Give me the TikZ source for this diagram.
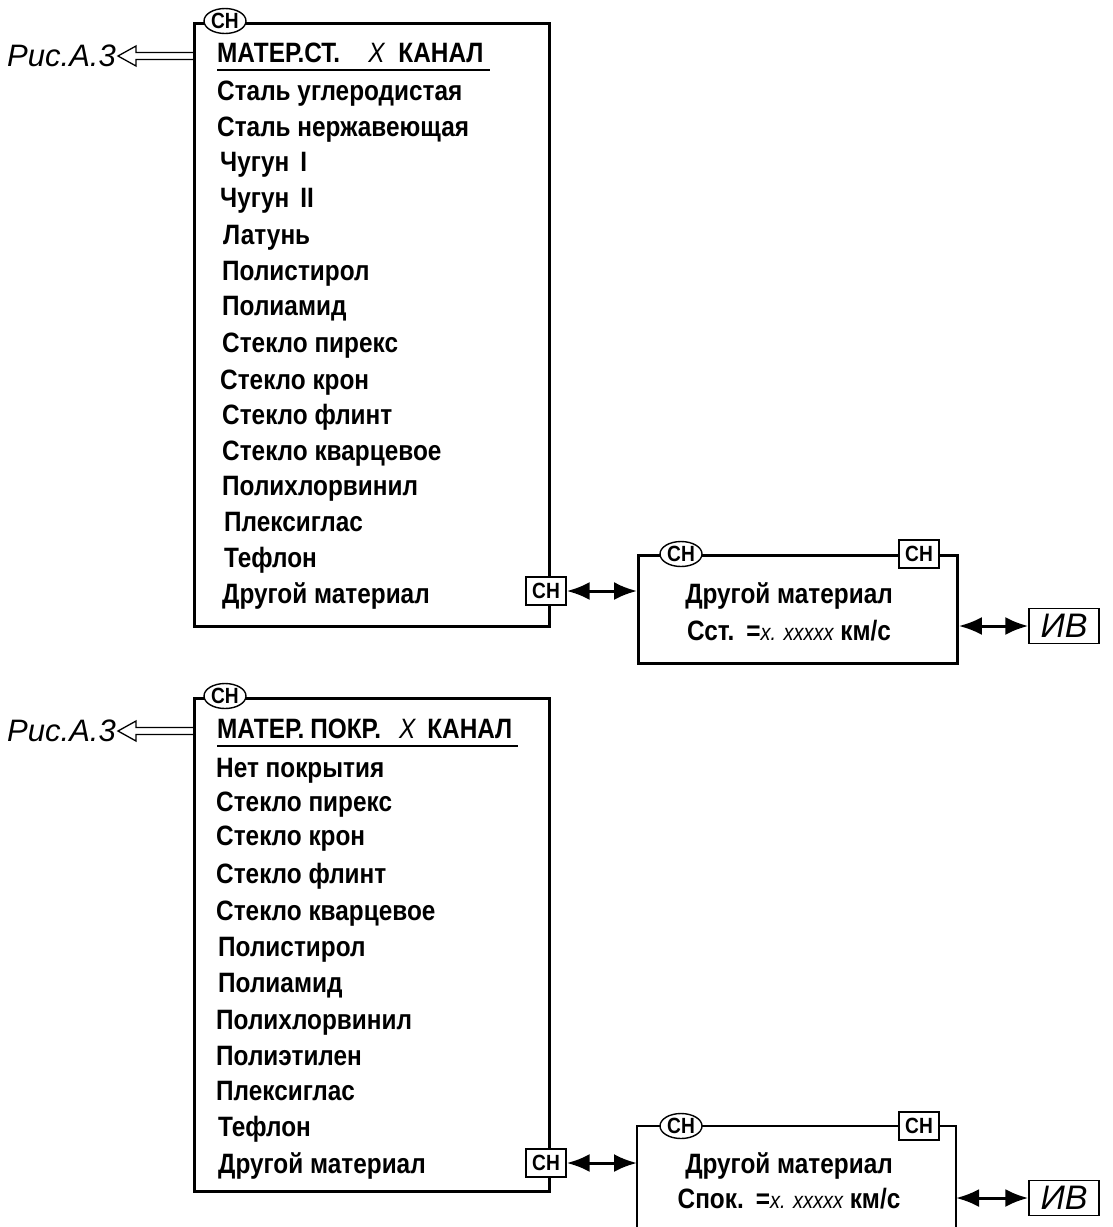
\documentclass[tikz,border=0pt]{standalone}
\usepackage{fontspec}
\setmainfont{Liberation Sans}
\newfontfamily\narrowfam{Liberation Sans}[FakeStretch=0.87]
\usetikzlibrary{arrows.meta,shapes.geometric,calc}
\newcommand\itemfont{\narrowfam\fontsize{28}{32}\selectfont\bfseries\upshape}
\newcommand\snfont{\narrowfam\fontsize{22}{24}\selectfont\bfseries\upshape}
\newcommand\valfont{\narrowfam\fontsize{23}{26}\selectfont\mdseries\itshape}
\newcommand\rifont{\fontsize{31}{34}\selectfont\mdseries\itshape}
\begin{document}
\begin{tikzpicture}[x=1pt,y=-1pt,
  frame/.style={draw,line width=2.8pt},
  item/.style={anchor=base west,inner sep=0pt,font=\itemfont},
  ctext/.style={anchor=base,inner sep=0pt,font=\itemfont},
  ovl/.style={ellipse,draw,line width=1.4pt,fill=white,inner sep=0pt,minimum width=42pt,minimum height=25pt,font=\snfont},
  sq/.style={rectangle,draw,line width=1.4pt,fill=white,inner sep=0pt,minimum width=40pt,minimum height=28pt,font=\snfont},
  ivbox/.style={rectangle,draw,line width=1.4pt,fill=white,inner sep=0pt,minimum width=70pt,minimum height=35pt,font=\fontsize{34}{36}\selectfont\mdseries\itshape},
  dbl/.style={line width=3pt,{Latex[length=23pt,width=18pt]}-{Latex[length=23pt,width=18pt]}},
  ulin/.style={line width=1.9pt},
  riarrow/.style={line width=1.3pt}
]
\useasboundingbox (0,0) rectangle (1112,1227);

% ================= upper block =================
\node[frame,anchor=north west,minimum width=355pt,minimum height=603pt,inner sep=0pt] (b1) at (193,22) {};
\node[ovl] (o1) at (225,21) {СН};
\node[item] (h1) at (217,62) {МАТЕР.СТ.\hspace{28pt}{\mdseries\itshape X}\hspace{14pt}КАНАЛ};
\draw[ulin] ($(h1.base west)+(0,8)$) -- ($(h1.base east)+(6,8)$);

\node[item] (a1) at (217,100) {Сталь углеродистая};
\node[item] (a2) at (217,136) {Сталь нержавеющая};
\node[item] (a3) at (220,171) {Чугун\hspace{11pt}I};
\node[item] (a4) at (220,207) {Чугун\hspace{11pt}II};
\node[item] (a5) at (223,244) {Латунь};
\node[item] (a6) at (222,280) {Полистирол};
\node[item] (a7) at (222,315) {Полиамид};
\node[item] (a8) at (222,352) {Стекло пирекс};
\node[item] (a9) at (220,389) {Стекло крон};
\node[item] (a10) at (222,424) {Стекло флинт};
\node[item] (a11) at (222,460) {Стекло кварцевое};
\node[item] (a12) at (222,495) {Полихлорвинил};
\node[item] (a13) at (224,531) {Плексиглас};
\node[item] (a14) at (224,567) {Тефлон};
\node[item] (a15) at (222,603) {Другой материал};

\node[sq] (s1) at (546,591) {СН};

% Рис.А.3 arrow
\coordinate (r1) at (b1.west |- 0,56);
\node[anchor=east,inner sep=0pt,font=\rifont] (p1) at (116,56) {Рис.А.3};
\draw[riarrow] ($(r1)+(0,-3.5)$) -- ++(-57,0) -- ++(0,-6.5) -- ++(-18,10) -- ++(18,10) -- ++(0,-6.5) -- ($(r1)+(0,3.5)$);

% right box
\node[frame,anchor=north west,minimum width=319pt,minimum height=108pt,inner sep=0pt] (b2) at (637,554) {};
\node[ovl] (o2) at (681,554) {СН};
\node[sq] (s2) at (919,554) {СН};
\node[ctext] (t1) at (789,603) {Другой материал};
\node[ctext] (t2) at (789,640) {Сст.\hspace{12pt}=\valfont x. xxxxx\itemfont\ км/с};
\draw[dbl] (s1.east) -- (s1.east -| b2.west);
\node[ivbox] (iv1) at (1064,626) {ИВ};
\draw[dbl] (b2.east |- iv1) -- (iv1.west);

% ================= lower block =================
\node[frame,anchor=north west,minimum width=355pt,minimum height=493pt,inner sep=0pt] (b3) at (193,697) {};
\node[ovl] (o3) at (225,696) {СН};
\node[item] (h3) at (217,738) {МАТЕР.\hspace{6pt}ПОКР.\hspace{18pt}{\mdseries\itshape X}\hspace{12pt}КАНАЛ};
\draw[ulin] ($(h3.base west)+(0,8)$) -- ($(h3.base east)+(5,8)$);

\node[item] (c1) at (216,777) {Нет покрытия};
\node[item] (c2) at (216,811) {Стекло пирекс};
\node[item] (c3) at (216,845) {Стекло крон};
\node[item] (c4) at (216,883) {Стекло флинт};
\node[item] (c5) at (216,920) {Стекло кварцевое};
\node[item] (c6) at (218,956) {Полистирол};
\node[item] (c7) at (218,992) {Полиамид};
\node[item] (c8) at (216,1029) {Полихлорвинил};
\node[item] (c9) at (216,1065) {Полиэтилен};
\node[item] (c10) at (216,1100) {Плексиглас};
\node[item] (c11) at (218,1136) {Тефлон};
\node[item] (c12) at (218,1173) {Другой материал};

\node[sq] (s3) at (546,1163) {СН};

\coordinate (r3) at (b3.west |- 0,731);
\node[anchor=east,inner sep=0pt,font=\rifont] (p3) at (116,731) {Рис.А.3};
\draw[riarrow] ($(r3)+(0,-3.5)$) -- ++(-57,0) -- ++(0,-6.5) -- ++(-18,10) -- ++(18,10) -- ++(0,-6.5) -- ($(r3)+(0,3.5)$);

% lower right box (open at the bottom edge of the picture)
\coordinate (b4nw) at (637,1126);
\coordinate (b4ne) at (956,1126);
\draw[line width=2.8pt] (b4nw |- 0,1230) -- (b4nw) -- (b4ne) -- (b4ne |- 0,1230);
\node[ovl] (o4) at (681,1126) {СН};
\node[sq] (s4) at (919,1126) {СН};
\node[ctext] (t3) at (789,1173) {Другой материал};
\node[ctext] (t4) at (789,1208) {Спок.\hspace{12pt}=\valfont x. xxxxx\itemfont\ км/с};
\draw[dbl] (s3.east) -- (s3.east -| b4nw);
\node[ivbox] (iv2) at (1064,1198) {ИВ};
\draw[dbl] (b4ne |- iv2) -- (iv2.west);
\end{tikzpicture}
\end{document}
